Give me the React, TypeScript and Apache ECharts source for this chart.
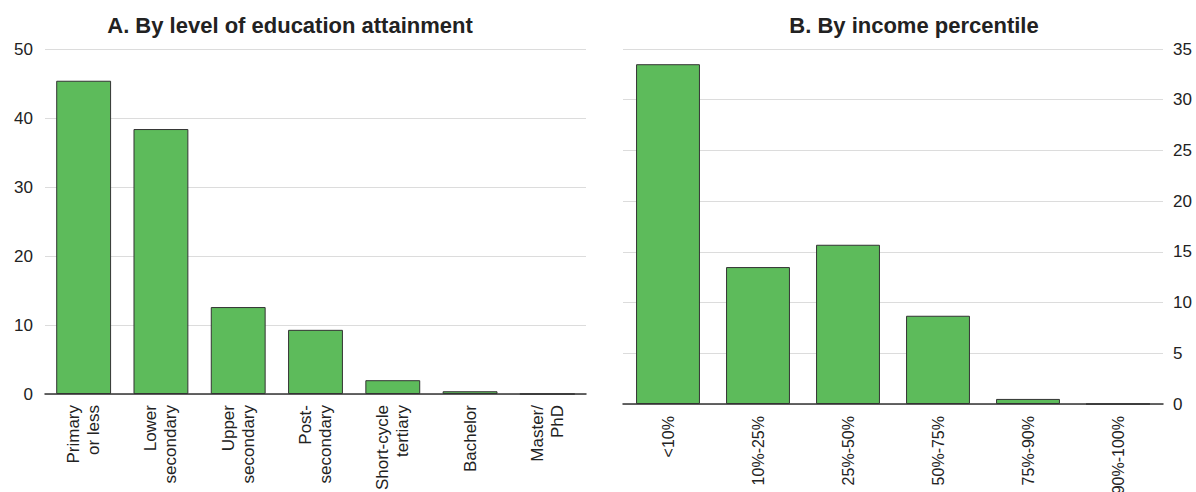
import React, { useEffect, useRef } from "react";
import * as echarts from "echarts";

const eduCategories = [
  "Primary\nor less",
  "Lower\nsecondary",
  "Upper\nsecondary",
  "Post-\nsecondary",
  "Short-cycle\ntertiary",
  "Bachelor",
  "Master/\nPhD",
];
const eduValues = [45.4, 38.4, 12.6, 9.3, 2.0, 0.4, 0];

const incomeCategories = ["<10%", "10%-25%", "25%-50%", "50%-75%", "75%-90%", "90%-100%"];
const incomeValues = [33.5, 13.5, 15.7, 8.7, 0.5, 0];

const eduTicks = { min: 0, max: 50, interval: 10 };
const incomeTicks = { min: 0, max: 35, interval: 5 };

const titles = ["A. By level of education attainment", "B. By income percentile"];

const FONT = "'Liberation Sans', Arial, Helvetica, sans-serif";
const TEXT = "#222";
const BAR = "#5dbb5b";

export default function App() {
  const ref = useRef<HTMLDivElement>(null);
  useEffect(() => {
    if (!ref.current) return;
    const chart = echarts.init(ref.current, undefined, { renderer: "svg" });
    const xAxisCommon = {
      type: "category" as const,
      axisLine: { show: true, lineStyle: { color: "#333", width: 1.5 } },
      axisTick: { show: false },
      axisLabel: {
        rotate: 90,
        interval: 0,
        color: TEXT,
        fontFamily: FONT,
        fontSize: 17,
        lineHeight: 20,
        margin: 11,
      },
    };
    const yAxisCommon = {
      type: "value" as const,
      axisLine: { show: false },
      axisTick: { show: false },
      splitLine: { show: true, lineStyle: { color: "#dcdcdc", width: 1 } },
      axisLabel: { color: TEXT, fontFamily: FONT, fontSize: 17, margin: 12 },
    };
    const titleStyle = { fontFamily: FONT, fontSize: 22, fontWeight: "bold" as const, color: TEXT };
    chart.setOption({
      animation: false,
      backgroundColor: "#fff",
      title: [
        { text: titles[0], left: 285, top: 9, textAlign: "center", textStyle: titleStyle },
        { text: titles[1], left: 909, top: 9, textAlign: "center", textStyle: titleStyle },
      ],
      grid: [
        { left: 45, right: 610, top: 49, bottom: 98, containLabel: false, outerBoundsMode: "none" },
        { left: 623, right: 33, top: 49, bottom: 88, containLabel: false, outerBoundsMode: "none" },
      ],
      xAxis: [
        { ...xAxisCommon, gridIndex: 0, data: eduCategories },
        {
          ...xAxisCommon,
          gridIndex: 1,
          data: incomeCategories,
          axisLabel: { ...xAxisCommon.axisLabel, fontSize: 16, margin: 12 },
        },
      ],
      yAxis: [
        { ...yAxisCommon, gridIndex: 0, position: "left", ...eduTicks },
        { ...yAxisCommon, gridIndex: 1, position: "right", ...incomeTicks, axisLabel: { ...yAxisCommon.axisLabel, margin: 10 } },
      ],
      series: [
        {
          type: "bar",
          xAxisIndex: 0,
          yAxisIndex: 0,
          data: eduValues,
          barWidth: "71%",
          itemStyle: { color: BAR, borderColor: "#333", borderWidth: 1 },
        },
        {
          type: "bar",
          xAxisIndex: 1,
          yAxisIndex: 1,
          data: incomeValues,
          barWidth: "71%",
          itemStyle: { color: BAR, borderColor: "#333", borderWidth: 1 },
        },
      ],
    });
    return () => chart.dispose();
  }, []);
  return (
    <div
      ref={ref}
      style={{ position: "fixed", left: 0, top: 0, width: 1196, height: 492, background: "#fff" }}
    />
  );
}
